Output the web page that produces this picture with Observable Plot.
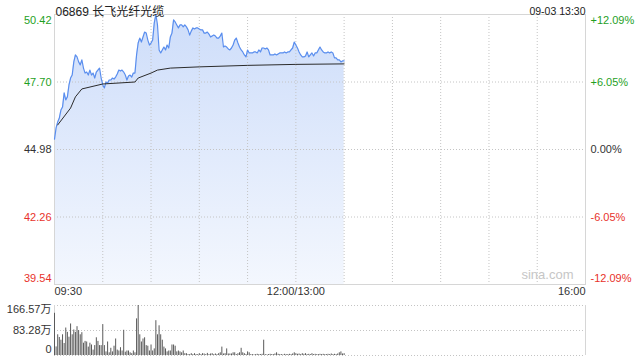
<!DOCTYPE html>
<html><head><meta charset="utf-8">
<script src="https://cdn.jsdelivr.net/npm/d3@7"></script>
<script src="https://cdn.jsdelivr.net/npm/@observablehq/plot@0.6"></script>
<style>
html,body{margin:0;padding:0;background:#fff;}
#chart{position:relative;width:640px;height:360px;overflow:hidden;}
#chart svg{position:absolute;left:0;}
</style></head><body><div id="chart"></div>
<script>
const stockTitle = "06869 长飞光纤光缆";
const stampText = "09-03 13:30";
const watermark = "sina.com";
const prevClose = 44.98;
const priceTicks = [50.42, 47.70, 44.98, 42.26, 39.54];
const priceTickLabels = ["50.42", "47.70", "44.98", "42.26", "39.54"];
const pctTickLabels = ["+12.09%", "+6.05%", "0.00%", "-6.05%", "-12.09%"];
const timeTickMinutes = [0, 150, 330];
const timeTickLabels = ["09:30", "12:00/13:00", "16:00"];
const gridMinutes = [30, 60, 90, 120, 150, 180, 210, 240, 270, 300];
const volTicks = [166.57, 83.28, 0];
const volTickLabels = ["166.57万", "83.28万", "0"];

// minute-by-minute price from 09:30 (index = minutes of trading)
const prices = [
45.40,45.85,46.09,46.25,46.57,46.69,47.26,46.98,47.10,47.58,
47.86,47.98,48.51,48.79,48.71,48.51,48.39,48.59,48.26,48.06,
48.10,47.98,48.18,47.98,48.06,47.86,48.10,48.18,48.26,47.86,
47.58,47.46,47.70,47.66,47.78,47.78,47.86,47.82,47.90,48.02,
48.18,48.14,48.18,48.10,47.98,47.78,47.94,47.98,47.90,48.06,
48.06,48.79,49.27,49.47,49.31,49.51,49.71,49.67,49.39,49.19,
49.27,49.39,50.08,50.42,50.00,48.99,48.87,48.99,49.11,48.99,
49.19,49.07,49.51,49.67,50.20,50.12,50.00,49.88,50.00,50.00,
49.92,50.00,49.92,49.80,49.59,49.75,49.88,49.84,49.88,49.88,
49.84,49.80,49.80,49.67,49.67,49.71,49.63,49.51,49.55,49.59,
49.55,49.47,49.47,49.55,49.67,49.11,49.15,49.11,49.03,48.99,
49.07,49.19,49.39,49.47,49.27,49.11,48.99,48.91,48.79,48.71,
48.99,48.87,48.87,48.87,48.91,48.91,48.87,48.99,48.91,49.07,
49.07,49.03,49.07,48.99,48.79,48.79,48.79,48.83,48.79,48.83,
48.87,48.87,48.87,48.91,48.87,48.91,48.91,48.99,49.07,49.31,
49.19,49.07,48.91,48.79,48.71,48.71,48.75,48.91,48.71,48.79,
48.87,48.75,48.87,48.87,48.99,49.11,48.99,48.91,48.87,48.87,
48.91,48.87,48.91,48.87,48.67,48.67,48.59,48.59,48.51,48.55,
48.55];

const avgMinutes = [2, 10, 13, 17, 30, 50, 52, 60, 64, 72, 90, 120, 150, 180];
const avgPrices = [45.97, 46.65, 47.10, 47.42, 47.62, 47.70, 47.86, 48.06, 48.18, 48.26, 48.31, 48.37, 48.41, 48.43];

// volume per minute, 万
const volumes = [
140.6,28.6,69,60,51,69,40,91.5,77,61,
105,69,85,77,96,83,69,76,41,47,
45,28,41,35,18,33,59,47,33,33,
103,33,12,45,9,24,12,31,55,18,
15,26,15,84,11,15,15,9,6,15,
9,122,166.57,69,45,55,59,33,31,15,
35,15,22,116,69,99,69,51,28,22,
12,15,15,35,35,31,12,15,12,9,
15,6,6,3,3,6,3,6,3,3,
6,3,6,5,3,7,3,5,6,3,
5,3,6,9,28,5,6,22,5,5,
5,9,9,3,6,9,24,9,6,3,
12,9,3,3,2,3,4,3,3,4,
51,3,2,3,4,3,3,5,9,4,
3,3,2,4,3,3,4,3,5,9,
6,4,5,3,6,4,6,3,4,3,
6,3,4,3,3,4,3,4,3,3,
4,3,5,3,4,3,5,9,12,5,
6];

const GREEN = "#1f9f1f", RED = "#e8322b", DARK = "#333333";
const FONT = "'Liberation Sans', Arial, 'Noto Sans CJK SC', sans-serif";
const LINE = "#5a8eee";

const priceData = prices.map((p, i) => ({m: i, p}));
const avgData = avgMinutes.map((m, i) => ({m, p: avgPrices[i]}));
const volData = volumes.map((v, i) => ({m: i, v}));
const n = priceTicks.length;
const tickData = priceTicks.map((v, i) => ({
  v, left: priceTickLabels[i], right: pctTickLabels[i],
  color: v > prevClose + 1e-9 ? GREEN : v < prevClose - 1e-9 ? RED : DARK,
  pos: i === 0 ? "top" : i === n - 1 ? "bottom" : "middle"
}));
const timeData = timeTickMinutes.map((m, i) => ({m, label: timeTickLabels[i],
  anchor: i === 0 ? "start" : i === timeTickMinutes.length - 1 ? "end" : "middle"}));
const volTickData = volTicks.map((v, i) => ({v, label: volTickLabels[i],
  pos: i === 0 ? "top" : i === volTicks.length - 1 ? "bottom" : "middle"}));

const edgeShift = {top: 1.5, middle: 0, bottom: -3};
const tickTextMarks = [];
for (const pos of ["top", "middle", "bottom"]) {
  tickTextMarks.push(Plot.text(tickData, {filter: d => d.pos === pos, y: "v", text: "left", fill: "color",
    frameAnchor: "left", textAnchor: "end", dx: -3, dy: edgeShift[pos], lineAnchor: pos}));
  tickTextMarks.push(Plot.text(tickData, {filter: d => d.pos === pos, y: "v", text: "right", fill: "color",
    frameAnchor: "right", textAnchor: "start", dx: 5, dy: edgeShift[pos], lineAnchor: pos}));
}
const timeMarks = ["start", "middle", "end"].map(a =>
  Plot.text(timeData, {filter: d => d.anchor === a, x: "m", text: "label", frameAnchor: "bottom",
    dy: 10, textAnchor: a, fill: DARK}));

const main = Plot.plot({
  width: 640, height: 300, marginTop: 14, marginBottom: 16, marginLeft: 54, marginRight: 55,
  x: {domain: [0, 330], axis: null},
  y: {domain: [39.54, 50.42], axis: null},
  color: {type: "identity"},
  style: {fontFamily: FONT, fontSize: "11px", background: "transparent", overflow: "visible"},
  marks: [
    Plot.areaY(priceData, {x: "m", y1: 39.54, y2: "p", fill: "url(#priceGrad)"}),
    Plot.ruleX(gridMinutes, {stroke: "#c4c4c4", strokeDasharray: "1,2"}),
    Plot.ruleY(priceTicks.slice(1, -1), {stroke: "#c4c4c4", strokeDasharray: "1,2"}),
    Plot.frame({stroke: "#d6d6d6"}),
    Plot.text([watermark], {text: d => d, frameAnchor: "bottom-right", dx: -12, dy: -6,
      textAnchor: "end", fill: "#c6c6c6", fontSize: 13}),
    Plot.line(priceData, {x: "m", y: "p", stroke: LINE, strokeWidth: 1.2}),
    Plot.line(avgData, {x: "m", y: "p", stroke: "#2b2b2b", strokeWidth: 1}),
    ...tickTextMarks,
    ...timeMarks,
    Plot.text([stockTitle], {text: d => d, frameAnchor: "top-left", dx: 1, dy: -7,
      textAnchor: "start", fill: "#222", fontSize: 12}),
    Plot.text([stampText], {text: d => d, frameAnchor: "top-right", dy: -7,
      textAnchor: "end", fill: "#222", fontSize: 10.5})
  ]
});

const defs = d3.select(main).insert("defs", ":first-child");
const grad = defs.append("linearGradient").attr("id", "priceGrad")
  .attr("x1", 0).attr("y1", 0).attr("x2", 0).attr("y2", 1);
grad.append("stop").attr("offset", 0).attr("stop-color", LINE).attr("stop-opacity", 0.3);
grad.append("stop").attr("offset", 1).attr("stop-color", LINE).attr("stop-opacity", 0.07);

const vol = Plot.plot({
  width: 640, height: 60, marginTop: 5, marginBottom: 5, marginLeft: 54, marginRight: 55,
  x: {domain: [0, 330], axis: null},
  y: {domain: [0, 166.57], axis: null},
  style: {fontFamily: FONT, fontSize: "11px", background: "transparent", overflow: "visible"},
  marks: [
    Plot.ruleY(volTicks, {stroke: "#c4c4c4", strokeDasharray: "1,2"}),
    Plot.ruleX([0, 330], {stroke: "#d6d6d6"}),
    Plot.ruleX(volData, {x: "m", y1: 0, y2: "v", stroke: "#5a5a5a", strokeWidth: 1}),
    ...["top", "middle", "bottom"].map(pos =>
      Plot.text(volTickData, {filter: d => d.pos === pos, y: "v", text: "label", frameAnchor: "left",
        textAnchor: "end", dx: -3, dy: pos === "bottom" ? -3 : 0, lineAnchor: pos, fill: DARK}))
  ]
});

const chart = document.getElementById("chart");
main.style.top = "0px";
vol.style.top = "300px";
chart.appendChild(main);
chart.appendChild(vol);
</script></body></html>
